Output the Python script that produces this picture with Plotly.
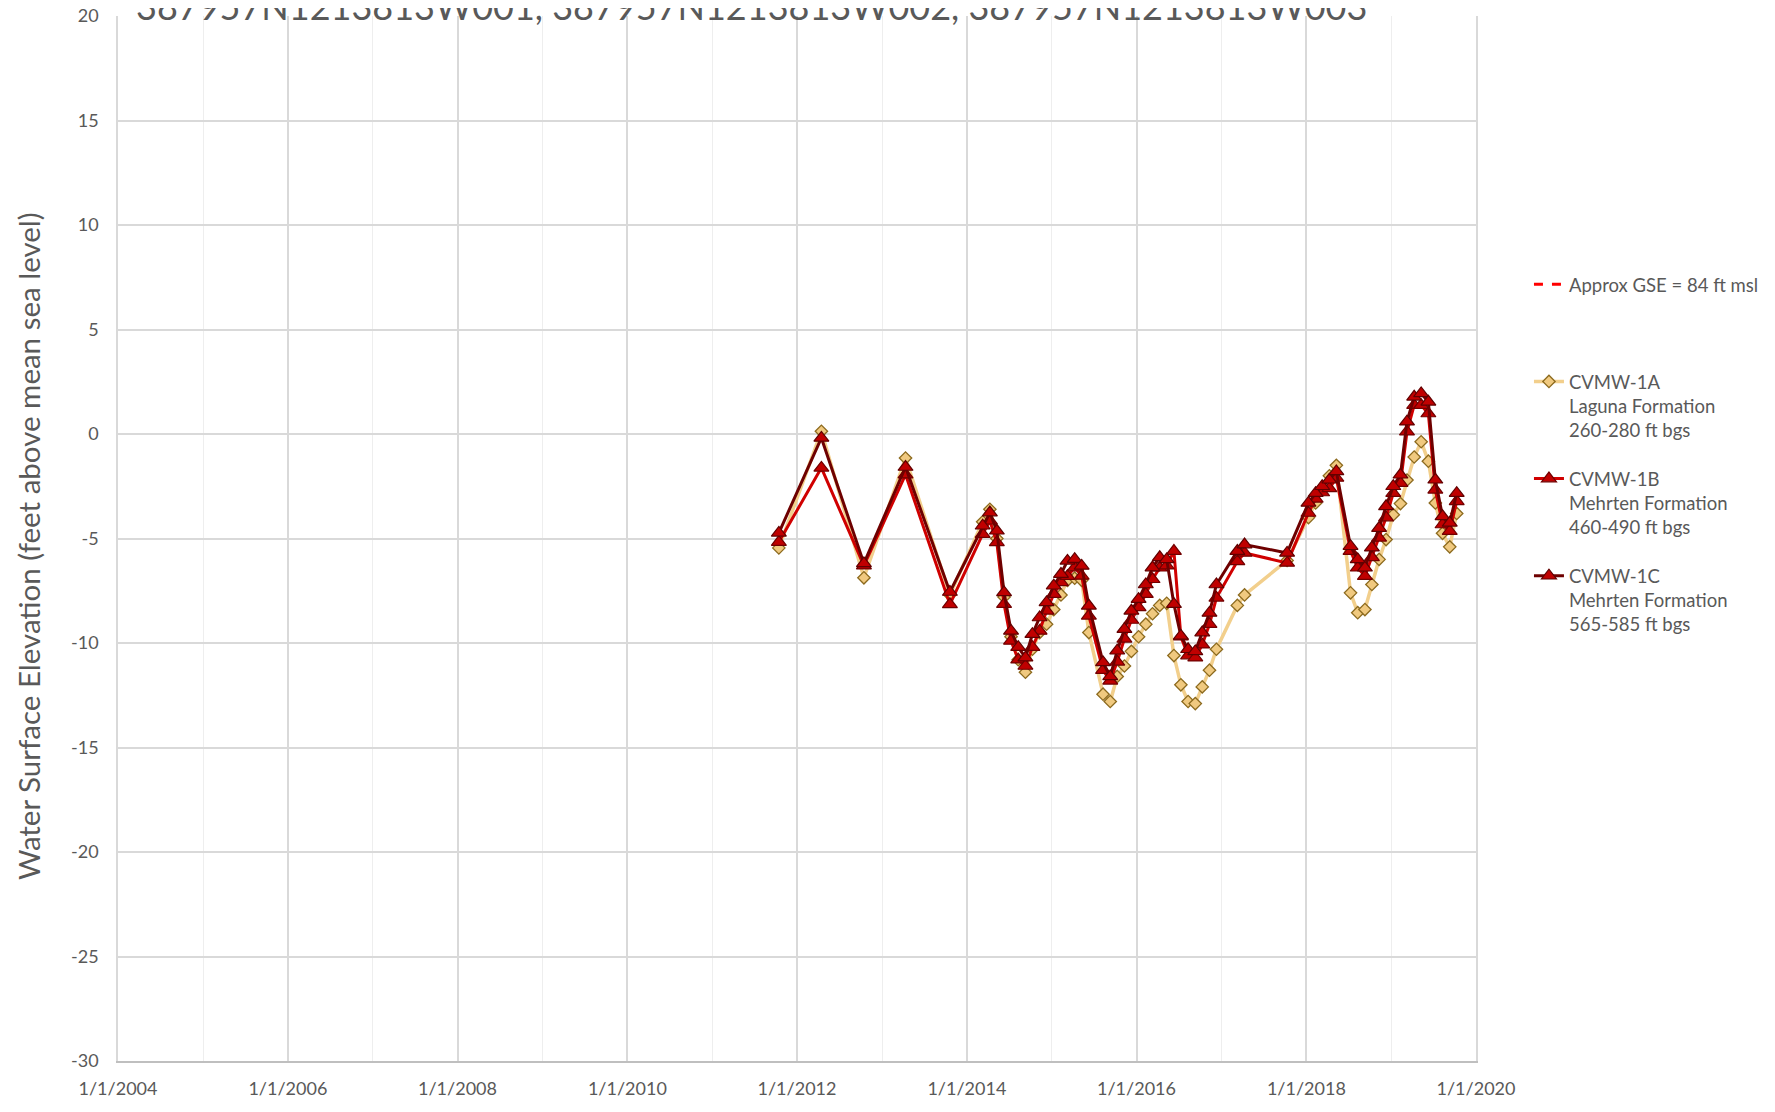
import plotly.graph_objects as go

# ---- data ----
dates = [
    "2011-10-15", "2012-04-15", "2012-10-15", "2013-04-12", "2013-10-20",
    "2014-03-10", "2014-04-10", "2014-05-10", "2014-06-10", "2014-07-10", "2014-08-10",
    "2014-09-10", "2014-10-10", "2014-11-10", "2014-12-10",
    "2015-01-10", "2015-02-10", "2015-03-10", "2015-04-10", "2015-05-10", "2015-06-10",
    "2015-08-10", "2015-09-10", "2015-10-10", "2015-11-10", "2015-12-10",
    "2016-01-10", "2016-02-10", "2016-03-10", "2016-04-10", "2016-05-10", "2016-06-10",
    "2016-07-10", "2016-08-10", "2016-09-10", "2016-10-10", "2016-11-10", "2016-12-10",
    "2017-03-10", "2017-04-10", "2017-10-10",
    "2018-01-10", "2018-02-10", "2018-03-10", "2018-04-10", "2018-05-10",
    "2018-07-10", "2018-08-10", "2018-09-10", "2018-10-10", "2018-11-10", "2018-12-10",
    "2019-01-10", "2019-02-10", "2019-03-10", "2019-04-10", "2019-05-10", "2019-06-10",
    "2019-07-10", "2019-08-10", "2019-09-10", "2019-10-10",
]

cvmw_1a = [
    -5.45, 0.13, -6.88, -1.15, -7.7,
    -4.2, -3.6, -5.0, -7.8, -9.7, -10.8,
    -11.4, -10.3, -9.5, -9.1,
    -8.4, -7.7, -7.0, -6.9, -7.0, -9.5,
    -12.45, -12.8, -11.6, -11.1, -10.4,
    -9.7, -9.1, -8.6, -8.2, -8.1, -10.6,
    -12.0, -12.8, -12.9, -12.1, -11.3, -10.3,
    -8.2, -7.7, -6.05,
    -4.0, -3.3, -2.6, -2.0, -1.5,
    -7.6, -8.55, -8.4, -7.2, -6.0, -5.05,
    -3.86, -3.33, -2.2, -1.1, -0.37, -1.3,
    -3.3, -4.75, -5.4, -3.8,
]

cvmw_1b = [
    -5.17, -1.62, -6.3, -1.94, -8.15,
    -4.79, -4.15, -5.19, -8.14, -9.9, -10.8,
    -11.1, -10.2, -9.42, -8.46,
    -7.66, -7.1, -6.8, -6.39, -6.79, -8.7,
    -11.3, -11.81, -10.9, -9.8, -8.9,
    -8.3, -7.66, -6.95, -6.4, -6.3, -5.6,
    -9.7, -10.6, -10.7, -10.08, -9.1, -7.84,
    -6.09, -5.69, -6.17,
    -3.78, -3.1, -2.8, -2.6, -2.1,
    -5.6, -6.4, -6.8, -5.9, -4.97, -4.0,
    -2.83, -2.35, 0.11, 1.38, 1.38, 0.98,
    -2.67, -4.33, -4.65, -3.22,
]

cvmw_1c = [
    -4.73, -0.19, -6.19, -1.58, -7.56,
    -4.39, -3.76, -4.63, -7.58, -9.42, -10.2,
    -10.7, -9.58, -8.78, -8.06,
    -7.26, -6.7, -6.07, -5.99, -6.31, -8.22,
    -10.93, -11.6, -10.37, -9.34, -8.46,
    -7.9, -7.2, -6.39, -5.9, -6.0, -8.14,
    -9.66, -10.3, -10.4, -9.5, -8.56, -7.2,
    -5.6, -5.29, -5.69,
    -3.3, -2.83, -2.5, -2.19, -1.79,
    -5.37, -6.0, -6.4, -5.44, -4.5, -3.46,
    -2.5, -1.95, 0.59, 1.78, 1.94, 1.54,
    -2.19, -3.94, -4.25, -2.83,
]

gse_dates = ["2004-01-01", "2020-01-01"]
gse_values = [84, 84]

y_tick_values = [20, 15, 10, 5, 0, -5, -10, -15, -20, -25, -30]
y_tick_labels = ["20", "15", "10", "5", "0", "-5", "-10", "-15", "-20", "-25", "-30"]

title_text = "387957N1213813W001, 387957N1213813W002, 387957N1213813W003"
y_title = "Water Surface Elevation (feet above mean sea level)"

FONT = "Lato, 'Open Sans', sans-serif"
GREY = "#595959"
NB = "\u00a0"

fig = go.Figure()

fig.add_trace(go.Scatter(
    x=gse_dates, y=gse_values, mode="lines",
    name="Approx GSE = 84 ft msl<br>" + NB + "<br>" + NB,
    line=dict(color="#FF0000", width=3, dash="dash"),
    legendgroup="g0",
))

fig.add_trace(go.Scatter(
    x=dates, y=cvmw_1a, mode="lines+markers",
    name="CVMW-1A<br>Laguna Formation<br>260-280 ft bgs",
    line=dict(color="#F2CF8C", width=3.5),
    marker=dict(symbol="diamond", size=9.5, color="#F0C97F",
                line=dict(color="#8C6A1E", width=1.3)),
    legendgroup="g1",
))

fig.add_trace(go.Scatter(
    x=dates, y=cvmw_1b, mode="lines+markers",
    name="CVMW-1B<br>Mehrten Formation<br>460-490 ft bgs",
    line=dict(color="#D00000", width=3),
    marker=dict(symbol="triangle-up", size=13, color="#C00000",
                line=dict(color="#700000", width=1.2)),
    legendgroup="g2",
))

fig.add_trace(go.Scatter(
    x=dates, y=cvmw_1c, mode="lines+markers",
    name="CVMW-1C<br>Mehrten Formation<br>565-585 ft bgs",
    line=dict(color="#6E0000", width=3),
    marker=dict(symbol="triangle-up", size=13, color="#C00000",
                line=dict(color="#600000", width=1.2)),
    legendgroup="g3",
))

# page body has an 8px margin: compensate so the plot area lands where the reference has it
fig.update_layout(
    width=1767, height=1104,
    margin=dict(l=110, r=299, t=8, b=51, autoexpand=False),
    paper_bgcolor="white", plot_bgcolor="white",
    font=dict(family=FONT, color=GREY, size=18),
    showlegend=True,
    legend=dict(
        x=1.039, xanchor="left", y=0.761, yanchor="top",
        valign="top", tracegroupgap=22,
        font=dict(family=FONT, size=18.5, color=GREY),
        bgcolor="rgba(0,0,0,0)",
    ),
    annotations=[
        dict(
            text=title_text, xref="paper", yref="paper",
            x=0.0118, y=0.987, xanchor="left", yanchor="bottom",
            showarrow=False, font=dict(family=FONT, size=36, color=GREY),
        ),
        dict(
            text=y_title, xref="paper", yref="paper",
            x=-0.066, y=0.4932, xanchor="center", yanchor="middle",
            textangle=-90, showarrow=False,
            font=dict(family=FONT, size=29.5, color=GREY),
        ),
    ],
)

fig.update_xaxes(
    type="date", automargin=False,
    range=["2004-01-01", "2020-01-01"],
    tick0="2004-01-01", dtick="M24",
    tickformat="%-m/%-d/%Y",
    showgrid=True, gridcolor="#D9D9D9", gridwidth=1.5,
    minor=dict(dtick="M12", tick0="2004-01-01", showgrid=True,
               gridcolor="#EEEEEE", gridwidth=1.2),
    showline=True, linecolor="#BFBFBF", linewidth=2, mirror=False,
    zeroline=False, ticks="", ticklabelstandoff=10,
    ticklabeloverflow="allow",
    tickfont=dict(family=FONT, size=18, color=GREY),
)

fig.update_yaxes(
    automargin=False,
    range=[-30, 20], tickmode="array",
    tickvals=y_tick_values, ticktext=y_tick_labels,
    showgrid=True, gridcolor="#D9D9D9", gridwidth=1.5,
    showline=True, linecolor="#D9D9D9", linewidth=1.5, mirror=True,
    zeroline=False, ticks="", ticklabelstandoff=14,
    ticklabeloverflow="allow",
    tickfont=dict(family=FONT, size=18, color=GREY),
)

fig.write_html("out.html")
